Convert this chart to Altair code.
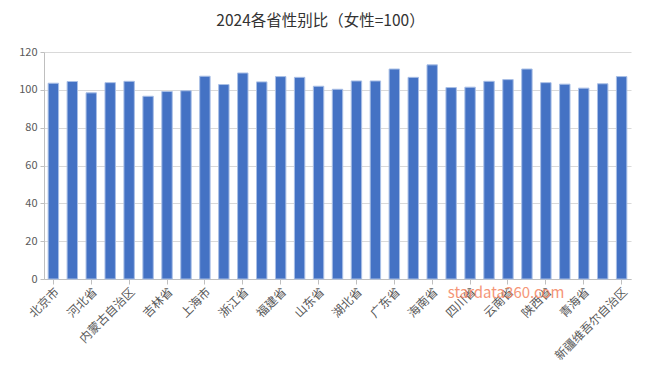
import altair as alt
import pandas as pd

provinces = ["北京市", "天津市", "河北省", "山西省", "内蒙古自治区", "辽宁省", "吉林省", "黑龙江省",
             "上海市", "江苏省", "浙江省", "安徽省", "福建省", "江西省", "山东省", "河南省",
             "湖北省", "湖南省", "广东省", "广西壮族自治区", "海南省", "重庆市", "四川省", "贵州省",
             "云南省", "西藏自治区", "陕西省", "甘肃省", "青海省", "宁夏回族自治区", "新疆维吾尔自治区"]
ratios = [103.5, 104.4, 98.4, 103.8, 104.5, 96.6, 99.1, 99.5,
          107.2, 102.8, 108.9, 104.2, 107.0, 106.6, 101.9, 100.3,
          104.7, 104.7, 111.0, 106.6, 113.2, 101.2, 101.4, 104.5,
          105.4, 111.0, 103.8, 103.0, 100.9, 103.2, 107.0]
shown_labels = provinces[::2]
y_ticks = [0, 20, 40, 60, 80, 100, 120]

df = pd.DataFrame({"省份": provinces, "性别比": ratios})

font = "Noto Sans CJK SC"

bars = alt.Chart(df).mark_bar(
    color="#4472C4", stroke="#A9BFE6", strokeWidth=1
).encode(
    x=alt.X("省份:N", sort=provinces, title=None,
            scale=alt.Scale(paddingInner=0.45, paddingOuter=0.22),
            axis=alt.Axis(values=shown_labels, labelAngle=-45, labelAlign="right",
                          labelBaseline="top", labelFont=font, labelFontSize=12,
                          labelColor="#595959", domainColor="#BFBFBF", tickColor="#BFBFBF",
                          tickSize=5, labelPadding=2, grid=False)),
    y=alt.Y("性别比:Q", title=None,
            scale=alt.Scale(domain=[0, 120], nice=False),
            axis=alt.Axis(values=y_ticks, labelFont=font, labelFontSize=11,
                          labelColor="#595959", domainColor="#BFBFBF", tickColor="#BFBFBF",
                          tickSize=4, gridColor="#D9D9D9", labelPadding=3)),
)

watermark = alt.Chart(pd.DataFrame({"t": ["stardata360.com"]})).mark_text(
    font=font, fontSize=15, color="#F4845F", opacity=0.85
).encode(text="t:N", x=alt.value(462), y=alt.value(241))

chart = alt.layer(bars, watermark).properties(
    width=587, height=227,
    title=alt.TitleParams("2024各省性别比（女性=100）", font=font, fontSize=15.5,
                          fontWeight="normal", color="#333333", anchor="middle",
                          offset=17, dx=-17),
    padding={"left": 10, "top": 5, "right": 5, "bottom": 5},
).configure_view(stroke=None)

chart.save("out.html", embed_options={"renderer": "svg", "actions": False})
